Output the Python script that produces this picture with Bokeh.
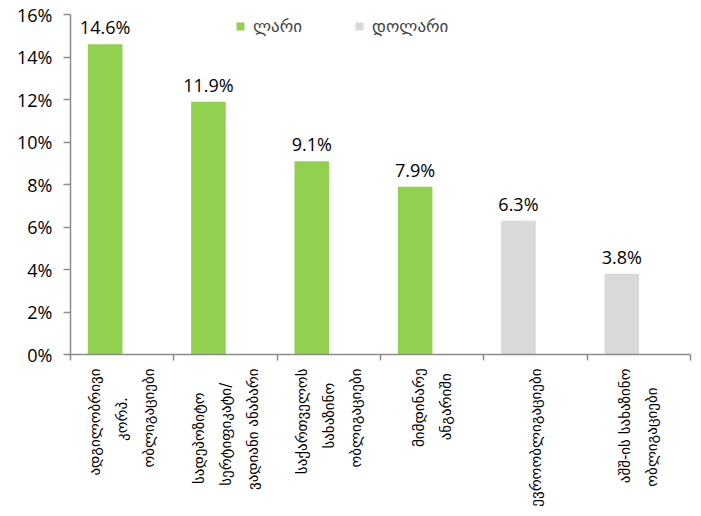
import math
from bokeh.plotting import figure
from bokeh.models import ColumnDataSource, FixedTicker, PrintfTickFormatter, Range1d, Legend, LegendItem
from bokeh.core.properties import value
from bokeh.embed import file_html
from bokeh.resources import INLINE

categories = [
    "ადგილობრივი\nკორპ.\nობლიგაციები",
    "სადეპოზიტო\nსერტიფიკატი/\nვადიანი ანაბარი",
    "საქართველოს\nსახაზინო\nობლიგაციები",
    "მიმდინარე\nანგარიში",
    "ევროობლიგაციები",
    "აშშ-ის სახაზინო\nობლიგაციები",
]
values = [14.6, 11.9, 9.1, 7.9, 6.3, 3.8]
currency = ["ლარი", "ლარი", "ლარი", "ლარი", "დოლარი", "დოლარი"]
series_names = ["ლარი", "დოლარი"]
series_colors = ["#92D050", "#D9D9D9"]
y_ticks = [0, 2, 4, 6, 8, 10, 12, 14, 16]

FONT = "Open Sans"
GEO = "DejaVu Sans"
AXIS_COLOR = "#8C8C8C"


def centered(label):
    # tick labels are end-aligned; pad shorter lines with no-break spaces to centre them
    lines = label.split("\n")
    longest = max(len(s) for s in lines)
    return "\n".join(s + "\u00a0" * round((longest - len(s)) * 0.95) for s in lines)


p = figure(frame_width=620, frame_height=340, output_backend="svg", toolbar_location=None,
           x_range=Range1d(0, 6), y_range=Range1d(0, 16),
           min_border_left=70, min_border_right=5, min_border_top=14, min_border_bottom=145)
p.outline_line_color = None
p.grid.visible = False
p.background_fill_color = "white"

renderers = []
for name, color in zip(series_names, series_colors):
    xs = [i + 0.335 for i, c in enumerate(currency) if c == name]
    ys = [v for v, c in zip(values, currency) if c == name]
    labels = [f"{v}%" for v in ys]
    src = ColumnDataSource(dict(x=xs, top=ys, label=labels))
    r = p.vbar(x="x", top="top", width=0.335, bottom=0, source=src,
               fill_color=color, line_color=None)
    renderers.append(r)
    p.text(x="x", y="top", text="label", source=src, text_align="center",
           text_baseline="alphabetic", y_offset=-17, text_font_size="18px",
           text_font=value(FONT), text_color="#000000")

legend = Legend(items=[LegendItem(label=n, renderers=[r]) for n, r in zip(series_names, renderers)],
                orientation="horizontal", location=(165, 318), padding=0, margin=0,
                spacing=52, glyph_width=10, glyph_height=10, label_standoff=8,
                label_text_font=GEO, label_text_font_size="17px",
                border_line_color=None, background_fill_alpha=0)
p.add_layout(legend, "center")

# y axis
yaxis = p.yaxis[0]
yaxis.ticker = FixedTicker(ticks=y_ticks, minor_ticks=[])
yaxis.formatter = PrintfTickFormatter(format="%d%%")
yaxis.major_label_text_font = FONT
yaxis.major_label_text_font_size = "18px"
yaxis.major_label_text_color = "#000000"
yaxis.axis_line_color = AXIS_COLOR
yaxis.axis_line_width = 1.5
yaxis.major_tick_line_color = AXIS_COLOR
yaxis.major_tick_line_width = 1.5
yaxis.major_tick_in = 0
yaxis.major_tick_out = 7
yaxis.major_label_standoff = 11

# x axis
xaxis = p.xaxis[0]
centers = [i + 0.5 for i in range(len(categories))]
xaxis.ticker = FixedTicker(ticks=centers, minor_ticks=list(range(len(categories) + 1)))
xaxis.major_label_overrides = {c: centered(lab) for c, lab in zip(centers, categories)}
xaxis.major_label_orientation = math.pi / 2
xaxis.major_label_text_font = GEO
xaxis.major_label_text_font_size = "15px"
xaxis.major_label_text_line_height = 1.5
xaxis.major_label_text_color = "#000000"
xaxis.axis_line_color = AXIS_COLOR
xaxis.axis_line_width = 1.5
xaxis.major_tick_line_color = None
xaxis.major_tick_out = 0
xaxis.major_tick_in = 0
xaxis.minor_tick_line_color = AXIS_COLOR
xaxis.minor_tick_line_width = 1.5
xaxis.minor_tick_out = 6
xaxis.minor_tick_in = 0
xaxis.major_label_standoff = 8

open("out.html", "w").write(file_html(p, INLINE))
